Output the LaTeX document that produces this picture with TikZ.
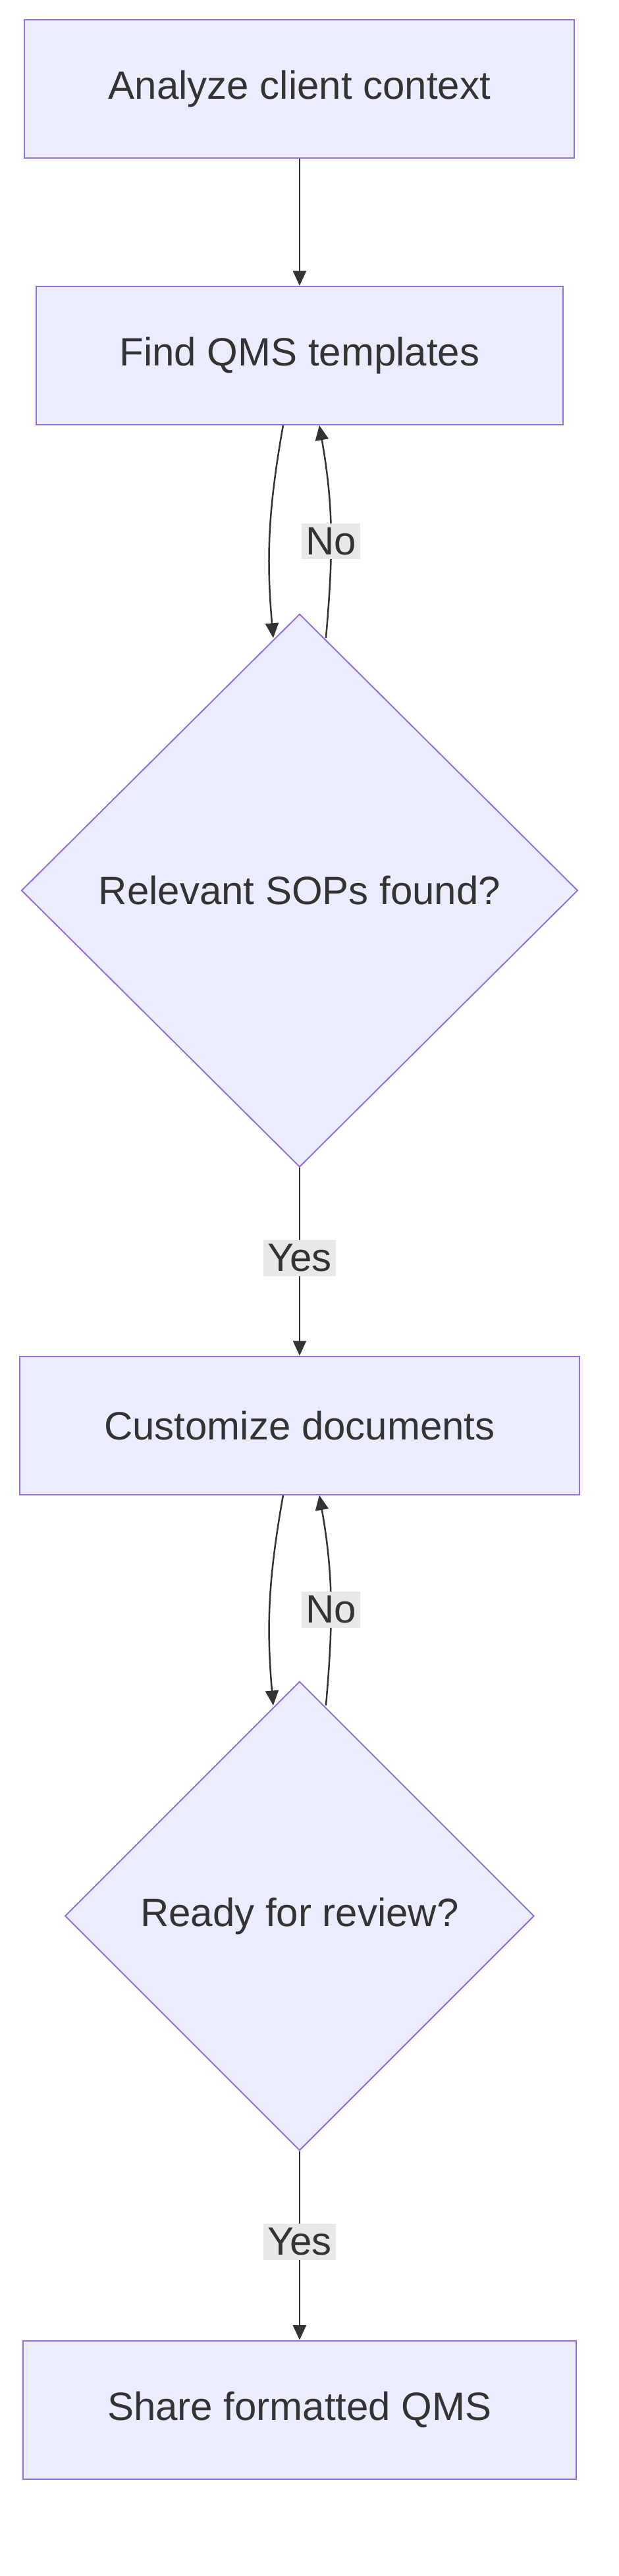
\documentclass[tikz,border=0pt]{standalone}
\usepackage{fontspec}
\setmainfont{Liberation Sans}
\usetikzlibrary{arrows.meta,shapes.geometric}
\definecolor{NodeFill}{HTML}{ECECFF}
\definecolor{NodeLine}{HTML}{9370DB}
\definecolor{Ink}{HTML}{333333}
\definecolor{LabelBg}{HTML}{E8E8E8}
\tikzset{
  procbox/.style={draw=NodeLine, fill=NodeFill, text=Ink, line width=0.8pt, font=\fontsize{24}{28}\selectfont},
  decision/.style={diamond, draw=NodeLine, fill=NodeFill, text=Ink, line width=0.8pt, inner sep=0pt, font=\fontsize{24}{28}\selectfont},
  flow/.style={draw=Ink, line width=1pt, -{Triangle[length=9pt,width=8pt]}},
  edgelabel/.style={fill=LabelBg, text=Ink, inner sep=2.5pt, font=\fontsize{24}{28}\selectfont}
}
\begin{document}
\begin{tikzpicture}[x=1pt,y=-1pt]
      \useasboundingbox[fill=white] (0,0) rectangle (376,1565);
      \node[procbox, minimum width=334, minimum height=84] (analyze) at (182,54) {Analyze client context};
      \node[procbox, minimum width=320, minimum height=84] (find) at (182,216) {Find QMS templates};
      \node[decision, minimum width=338, minimum height=336] (sops) at (182,541) {Relevant SOPs found?};
      \node[procbox, minimum width=340, minimum height=84] (custom) at (182,866) {Customize documents};
      \node[decision, minimum width=285, minimum height=285] (review) at (182,1164) {Ready for review?};
      \node[procbox, minimum width=336, minimum height=84] (share) at (182,1464) {Share formatted QMS};
      \draw[flow] (analyze) -- (find);
      \draw[flow] ([xshift=-10]find.south) to[out=-100,in=95] ([xshift=-16,yshift=-15]sops.north);
      \draw[flow] ([xshift=16,yshift=-15]sops.north) to[out=85,in=-80] node[edgelabel, pos=0.45] {No} ([xshift=12]find.south);
      \draw[flow] (sops) -- node[edgelabel, pos=0.48] {Yes} (custom);
      \draw[flow] ([xshift=-10]custom.south) to[out=-100,in=95] ([xshift=-16,yshift=-15]review.north);
      \draw[flow] ([xshift=16,yshift=-15]review.north) to[out=85,in=-80] node[edgelabel, pos=0.45] {No} ([xshift=12]custom.south);
      \draw[flow] (review) -- node[edgelabel, pos=0.48] {Yes} (share);
\end{tikzpicture}
\end{document}
